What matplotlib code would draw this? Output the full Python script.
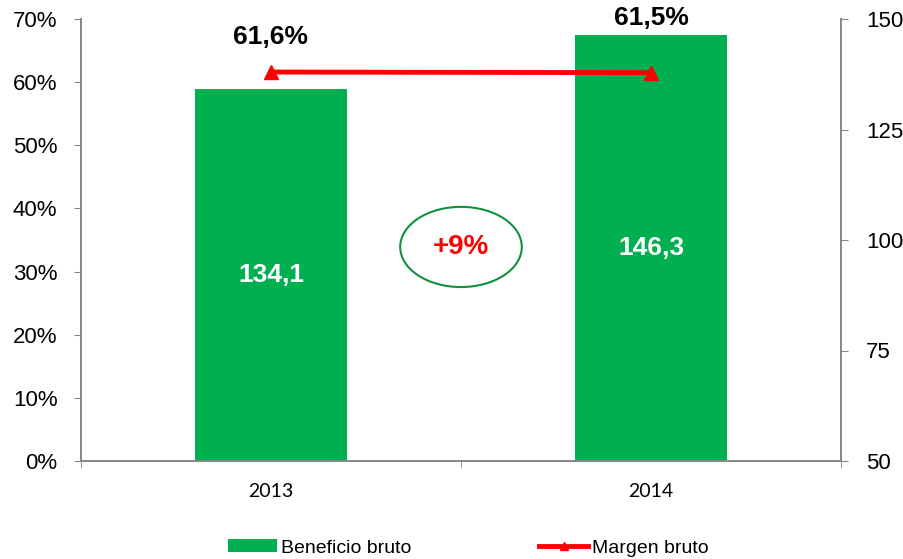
import matplotlib
matplotlib.use("Agg")
import matplotlib.pyplot as plt
from matplotlib.patches import Ellipse
from matplotlib.ticker import FuncFormatter

years = ["2013", "2014"]
beneficio = [134.1, 146.3]
margen = [61.6, 61.5]
beneficio_labels = ["134,1", "146,3"]
margen_labels = ["61,6%", "61,5%"]
growth_label = "+9%"

green = "#00B050"
red = "#FF0000"
grey = "#868686"

plt.rcParams["font.family"] = ["Liberation Sans", "DejaVu Sans"]

fig = plt.figure(figsize=(9.04, 5.59), dpi=100)
ax = fig.add_axes([81 / 904, 98 / 559, 760 / 904, 442 / 559])
ax2 = ax.twinx()

x = list(range(len(years)))

# bars on the right axis
ax2.bar(x, beneficio, width=0.4, color=green, zorder=2, label="Beneficio bruto")
ax2.set_ylim(50, 150)
ax2.set_yticks([50, 75, 100, 125, 150])
for xi, v, lab in zip(x, beneficio, beneficio_labels):
    ax2.text(xi, (50 + v) / 2, lab, ha="center", va="center", color="white",
             fontsize=19, fontweight="bold")

# line on the left axis, above the bars
ax.set_zorder(ax2.get_zorder() + 1)
ax.patch.set_visible(False)
ax.plot(x, margen, color=red, lw=3.5, marker="^", ms=10, label="Margen bruto")
ax.set_ylim(0, 70)
ax.set_yticks(range(0, 71, 10))
ax.yaxis.set_major_formatter(FuncFormatter(lambda v, p: f"{int(v)}%"))
label_y = [67.2, 70.2]
for xi, yl, lab in zip(x, label_y, margen_labels):
    ax.text(xi, yl, lab, ha="center", va="center", fontsize=19,
            fontweight="bold", color="black", clip_on=False)

ax.add_patch(Ellipse((0.5, 33.9), 0.32, 12.7, fill=False, edgecolor="#109040", lw=1.5))
ax.text(0.5, 33.9, growth_label, ha="center", va="center", color=red,
        fontsize=20, fontweight="bold")

ax.set_xlim(-0.5, 1.5)
ax.set_xticks(x)
ax.set_xticklabels(years, fontfamily="Lato", fontsize=14)
ax.set_xticks([-0.5, 0.5, 1.5], minor=True)
ax.tick_params(axis="x", which="major", length=0, pad=16)
ax.tick_params(axis="x", which="minor", length=5, color=grey, direction="out")

for a in (ax, ax2):
    a.spines["top"].set_visible(False)
    for s in ("left", "right", "bottom"):
        a.spines[s].set_color(grey)
        a.spines[s].set_linewidth(1.2)
ax.tick_params(axis="y", length=5, color=grey, labelsize=16, pad=12)
ax2.tick_params(axis="y", length=5, color=grey, labelsize=16, pad=13)

h1, l1 = ax2.get_legend_handles_labels()
h2, l2 = ax.get_legend_handles_labels()
fig.legend(h1 + h2, l1 + l2, loc="center", bbox_to_anchor=(0.518, 0.02), ncol=2,
           frameon=False, fontsize=14, handlelength=2.5, handletextpad=0.2,
           columnspacing=6.6, handleheight=0.67, markerscale=0.6)

fig.savefig("out.png", dpi=100)
